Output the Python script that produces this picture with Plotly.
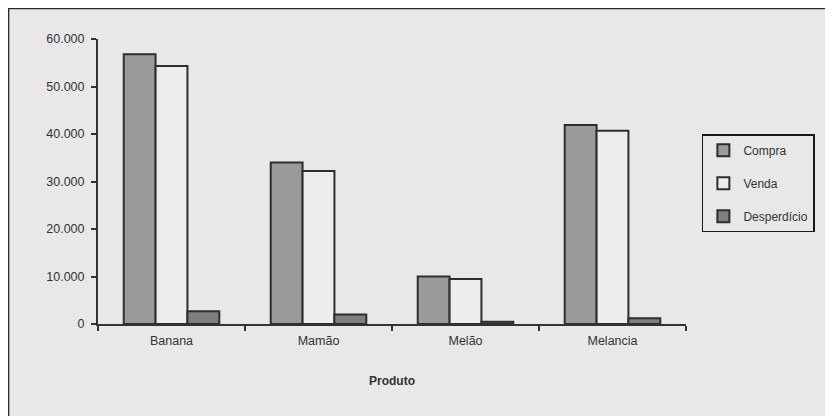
import plotly.graph_objects as go

categories = ["Banana", "Mamão", "Melão", "Melancia"]
compra = [56800, 34000, 10000, 41900]
venda = [54300, 32200, 9500, 40700]
desperdicio = [2700, 2000, 500, 1200]
y_ticks = [0, 10000, 20000, 30000, 40000, 50000, 60000]

series = [
    ("Compra", compra, "#9a9a9a"),
    ("Venda", venda, "#ededed"),
    ("Desperdício", desperdicio, "#7f7f7f"),
]

L, R, T, B = 90, 155, 31, 100
PW, PH = 833 - L - R, 416 - T - B

fig = go.Figure()
for name, vals, col in series:
    fig.add_trace(go.Bar(
        x=categories, y=vals, name=name, legendgroup=name,
        marker=dict(color=col, line=dict(color="#2e2e2e", width=2)),
    ))

fig.update_layout(
    width=833, height=416,
    margin=dict(l=L, r=R, t=T, b=B, autoexpand=False),
    paper_bgcolor="#e8e8e8",
    plot_bgcolor="rgba(0,0,0,0)",
    barmode="group", bargap=0.35, bargroupgap=0,
    separators=",.",
    font=dict(family="Liberation Sans, Arial, sans-serif", size=12.5, color="#333333"),
    showlegend=True,
    legend=dict(
        x=1.027, y=0.666, xanchor="left", yanchor="top",
        bgcolor="rgba(0,0,0,0)", bordercolor="#1a1a1a", borderwidth=1.5,
        font=dict(size=12, color="#333333"),
        tracegroupgap=14, itemwidth=30,
    ),
    shapes=[
        dict(type="rect", xref="paper", yref="paper", layer="below",
             x0=-L / PW + 0.001, x1=1 + R / PW, y0=-B / PH, y1=1 + T / PH - 0.002,
             fillcolor="rgba(0,0,0,0)", line=dict(color="#2a2a2a", width=1.5)),
    ],
)

fig.update_xaxes(
    showline=True, linecolor="#333333", linewidth=2,
    ticks="outside", tickson="boundaries", ticklen=5, tickcolor="#333333", tickwidth=2,
    ticklabelstandoff=4,
    showgrid=False,
    title=dict(text="<b>Produto</b>", font=dict(size=12, color="#333333"), standoff=30),
)
fig.update_yaxes(
    range=[0, 60000], tickvals=y_ticks, tickformat=",.0f",
    showline=True, linecolor="#333333", linewidth=2,
    ticks="outside", ticklen=5, tickcolor="#333333", tickwidth=2,
    ticklabelstandoff=4,
    showgrid=False, zeroline=False,
)

fig.write_html("out.html")
